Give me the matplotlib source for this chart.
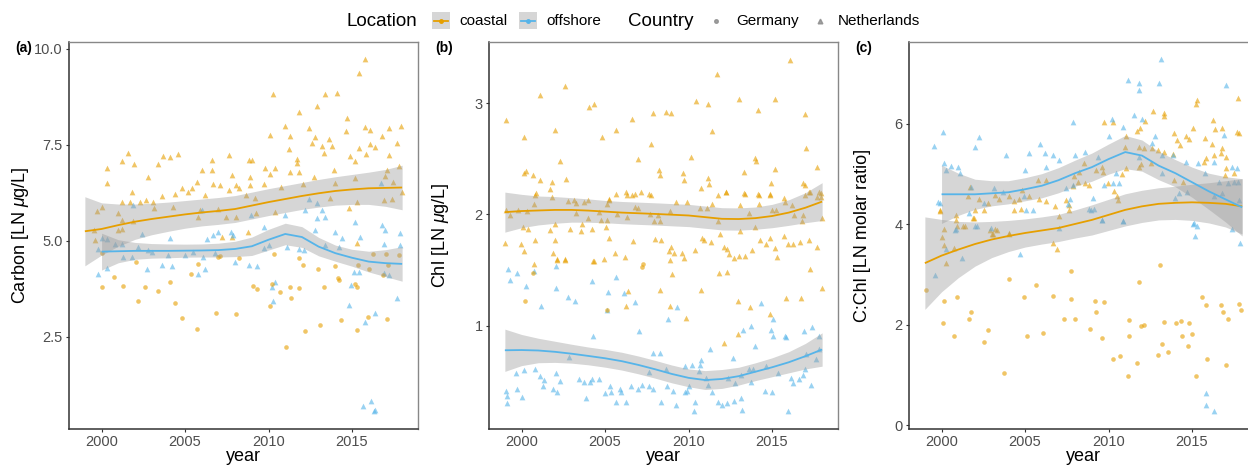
import matplotlib
matplotlib.use('Agg')
import matplotlib.pyplot as plt
import numpy as np
from matplotlib.patches import Rectangle
from matplotlib.lines import Line2D

plt.rcParams['font.family'] = ['Liberation Sans', 'DejaVu Sans']
plt.rcParams['mathtext.fontset'] = 'custom'
plt.rcParams['mathtext.rm'] = 'Liberation Sans'
plt.rcParams['mathtext.it'] = 'Liberation Sans:italic'

COAST = '#E69F00'
OFF = '#56B4E9'

# ---------------- data: panel (a) Carbon ----------------
a_coastal_nl = [
    (2015.75, 9.74), (2015.4, 9.38), (2010.25, 8.83), (2013.4, 8.82), (2014.1, 8.85), (2012.9, 8.52),
    (2011.85, 8.36), (2014.7, 8.2), (2011.0, 8.0), (2012.4, 7.95), (2015.8, 7.96), (2017.2, 7.94),
    (2017.95, 7.98), (2014.65, 7.87), (2016.1, 7.89), (2010.06, 7.76), (2011.26, 7.72), (2012.8, 7.71),
    (2013.65, 7.65), (2016.8, 7.72), (2011.2, 7.4), (2012.6, 7.54), (2013.2, 7.48), (2013.8, 7.46),
    (2015.4, 7.43), (2016.1, 7.52), (2016.35, 7.44), (2017.7, 7.54), (2013.35, 7.28), (2015.85, 7.27),
    (2017.2, 7.24), (2014.85, 7.22), (2015.2, 7.08), (2001.6, 7.28), (2004.6, 7.27), (2003.65, 7.22),
    (2004.07, 7.18), (2007.66, 7.23), (2001.2, 7.07), (2001.93, 7.0), (2003.37, 7.0), (2000.34, 6.89),
    (2000.34, 6.5), (2002.8, 6.67), (2006.0, 6.84), (2006.6, 6.84), (2006.6, 7.11), (2008.8, 7.11),
    (2009.0, 7.11), (2009.8, 6.89), (2010.36, 6.89), (2010.06, 6.74), (2011.3, 6.79), (2011.85, 6.8),
    (2011.7, 7.13), (2011.7, 7.02), (2013.9, 6.85), (2015.15, 6.63), (2017.1, 6.85), (2017.8, 6.96),
    (2012.75, 6.67), (2017.0, 6.69), (2007.8, 6.72), (2008.9, 6.67), (2005.7, 6.54), (2006.67, 6.48),
    (2008.07, 6.46), (2008.9, 6.46), (2009.7, 6.48), (2004.8, 6.37), (2005.4, 6.37), (2007.07, 6.46),
    (2010.76, 6.4), (2012.05, 6.49), (2014.0, 6.52), (2017.45, 6.54), (2018.0, 6.28), (2001.8, 6.28),
    (2004.37, 6.22), (2005.17, 6.28), (2007.66, 6.33), (2008.26, 6.37), (2008.66, 6.2), (2006.2, 6.2),
    (2003.6, 6.17), (2002.67, 6.07), (2001.2, 6.0), (2001.7, 6.02), (2002.3, 6.0), (2003.07, 6.0),
    (2000.04, 5.89), (1999.74, 5.79), (2000.98, 5.72), (2003.13, 5.85), (2004.27, 5.89), (2005.87, 5.81),
    (2006.97, 5.83), (2009.16, 6.11), (2009.26, 5.72), (2010.36, 5.74), (2013.7, 6.11), (2014.8, 5.85),
    (2015.3, 6.0), (2016.9, 6.07), (2017.4, 6.09), (2005.77, 5.63), (2008.07, 5.63), (2007.47, 5.63),
    (2001.88, 5.53), (2001.2, 5.55), (2001.2, 5.3), (2008.76, 5.24), (1999.54, 5.29), (1999.6, 5.03),
    (2007.2, 5.11), (2007.8, 5.11), (2000.98, 5.29), (2015.3, 4.94),
]
a_coastal_de = [
    (2000.04, 3.81), (2000.74, 4.05), (2001.3, 3.83), (2002.17, 3.44), (2002.07, 4.46), (2002.6, 3.79),
    (2003.37, 3.7), (2004.1, 3.94), (2004.37, 3.39), (2004.83, 3.0), (2005.37, 4.14), (2005.73, 2.7),
    (2005.77, 4.39), (2006.83, 3.12), (2006.97, 4.59), (2008.07, 3.1), (2008.22, 4.55), (2009.06, 3.83),
    (2009.3, 3.74), (2010.1, 3.31), (2010.22, 3.87), (2010.3, 4.65), (2010.66, 3.68), (2011.06, 2.23),
    (2011.26, 3.79), (2011.36, 3.51), (2011.8, 3.77), (2011.8, 4.55), (2012.05, 4.38), (2012.2, 2.66),
    (2012.95, 4.27), (2013.1, 2.81), (2013.35, 3.81), (2013.95, 4.35), (2014.15, 4.03), (2014.2, 3.97),
    (2014.35, 2.94), (2015.15, 3.87), (2015.3, 3.79), (2015.3, 2.68), (2015.35, 4.36), (2015.95, 3.03),
    (2016.0, 4.27), (2016.25, 4.66), (2016.85, 4.11), (2017.05, 4.65), (2017.1, 2.96), (2017.15, 4.38),
    (2017.8, 4.64), (2000.04, 4.68), (2007.1, 4.61),
]
a_offshore_nl = [
    (2001.9, 5.94), (2006.0, 5.81), (2012.4, 6.09), (2012.9, 5.98), (2012.2, 5.81), (2013.2, 5.81),
    (2008.96, 5.68), (2011.0, 5.68), (2012.9, 5.59), (2013.4, 5.63), (2016.75, 6.5), (2015.2, 5.5),
    (2009.7, 5.37), (2012.8, 5.29), (2014.0, 5.24), (2016.8, 5.42), (2017.0, 5.29), (2017.85, 5.2),
    (2014.4, 5.07), (2015.5, 5.1), (2016.9, 4.91), (2017.9, 4.9), (2002.4, 5.17), (2000.3, 5.04),
    (2000.8, 4.92), (2001.2, 4.91), (1999.8, 4.78), (2000.0, 5.07), (2002.2, 4.85), (2002.8, 4.77),
    (2004.1, 5.07), (2006.3, 5.04), (2006.65, 5.16), (2007.0, 5.24), (2007.76, 5.24), (2007.9, 5.16),
    (2005.0, 4.64), (2004.0, 4.64), (2001.8, 4.59), (2001.3, 4.58), (2006.1, 4.59), (2009.7, 4.81),
    (2010.0, 4.9), (2011.1, 4.85), (2011.8, 4.78), (2012.1, 4.75), (2013.4, 4.9), (2014.2, 4.85),
    (2006.8, 4.68), (2008.0, 4.46), (2008.8, 4.38), (2009.3, 4.35), (2002.7, 4.27), (2003.6, 4.38),
    (2004.2, 4.35), (2005.8, 4.14), (2006.2, 4.27), (2000.3, 4.29), (1999.8, 4.14), (2010.4, 3.92),
    (2010.2, 3.81), (2015.1, 4.2), (2015.4, 4.2), (2014.95, 3.86), (2016.9, 4.16), (2014.8, 3.33),
    (2017.7, 3.5), (2016.35, 3.12), (2015.75, 2.9), (2017.2, 4.11), (2015.65, 0.69), (2016.15, 0.83),
    (2016.3, 0.57), (2016.35, 0.6), (2010.26, 3.44), (2003.0, 4.72), (2005.5, 4.70),
]

# ---------------- data: panel (b) Chl ----------------
b_coastal_nl = [
    (1999.04, 2.85), (2000.14, 2.70), (2001.08, 3.07), (2001.98, 2.76), (2002.63, 3.15), (2004.03, 2.97),
    (2004.31, 2.99), (2004.83, 2.70), (2005.67, 2.76), (2006.6, 2.86), (2007.86, 2.91), (2008.66, 2.92),
    (2008.96, 2.91), (2010.42, 3.02), (2011.16, 2.99), (2011.42, 2.75), (2011.72, 3.26), (2013.05, 3.04),
    (2014.15, 2.94), (2015.2, 3.04), (2016.1, 3.39), (2016.95, 2.90), (2017.05, 2.60), (2017.7, 2.43),
    (2000.14, 2.37), (2000.24, 2.39), (2000.68, 2.35), (2001.12, 2.31), (2002.28, 2.48), (2001.84, 2.29),
    (2001.68, 2.23), (2000.84, 2.19), (2002.67, 2.32), (2006.97, 2.50), (2007.77, 2.63), (2008.26, 2.40),
    (2008.32, 2.35), (2010.12, 2.52), (2009.66, 2.37), (2009.72, 2.31), (2011.16, 2.33), (2011.22, 2.27),
    (2010.76, 2.24), (2012.22, 2.20), (2013.3, 2.38), (2014.0, 2.51), (2014.05, 2.48), (2015.2, 2.41),
    (2014.95, 2.28), (2016.85, 2.28), (2016.95, 2.26), (2017.2, 2.20), (2017.84, 2.20), (2017.94, 2.16),
    (2015.7, 2.15), (2013.35, 2.19), (2014.15, 2.18), (2014.85, 2.18), (2005.67, 2.18), (2006.27, 2.20),
    (2007.17, 2.20), (2007.66, 2.18), (2006.63, 2.17), (2005.23, 2.14),
    (1999.06, 2.04), (1999.32, 1.99), (1999.78, 2.04), (2000.32, 2.03), (2000.82, 2.17), (2000.76, 2.09),
    (2001.82, 2.16), (2002.78, 2.12), (2003.17, 2.13), (2003.25, 2.10), (2003.71, 2.11), (2004.0, 2.13),
    (2003.25, 2.01), (2003.97, 1.97), (2004.61, 2.02), (2004.77, 1.95), (2005.1, 1.95), (2005.25, 2.13),
    (2005.1, 2.09), (2005.7, 2.0), (2006.3, 2.17), (2006.77, 2.18), (2006.77, 2.07), (2007.0, 2.06),
    (2006.3, 1.98), (2007.7, 2.0), (2007.77, 2.17), (2008.2, 1.99), (2008.3, 1.94), (2007.96, 1.94),
    (2008.9, 2.03), (2009.24, 2.11), (2009.9, 2.11), (2010.7, 2.06), (2011.1, 2.06), (2011.4, 2.09),
    (2011.76, 2.17), (2011.76, 1.94), (2012.24, 2.20), (2013.1, 2.08), (2013.4, 2.18), (2013.6, 2.01),
    (2014.2, 2.09), (2014.23, 2.17), (2014.9, 2.17), (2014.99, 2.04), (2015.23, 2.04), (2015.75, 2.11),
    (2016.2, 2.08), (2016.3, 1.99), (2016.99, 2.17), (2017.3, 2.20), (2017.7, 2.16), (2017.95, 2.19),
    (2017.98, 1.97), (2016.8, 1.94), (2016.85, 1.99),
    (1999.02, 1.74), (2000.08, 1.89), (2000.38, 1.87), (1999.98, 1.73), (2000.16, 1.67), (2000.78, 1.77),
    (2000.72, 1.55), (2001.68, 1.86), (2001.98, 1.77), (2002.02, 1.91), (2001.86, 1.65), (2002.12, 1.60),
    (2002.62, 1.60), (2002.92, 1.87), (2003.6, 1.91), (2003.57, 1.85), (2004.2, 1.87), (2004.31, 1.58),
    (2004.91, 1.60), (2005.05, 1.89), (2005.25, 1.79), (2005.61, 1.65), (2006.2, 1.62), (2006.67, 1.76),
    (2008.0, 1.78), (2008.37, 1.77), (2008.96, 1.71), (2008.8, 1.67), (2009.1, 1.65), (2008.9, 1.59),
    (2009.7, 1.61), (2009.6, 1.65), (2010.4, 1.68), (2010.8, 1.79), (2010.9, 1.77), (2011.36, 1.75),
    (2011.9, 1.82), (2012.1, 1.71), (2012.3, 1.69), (2012.4, 1.64), (2012.7, 1.61), (2013.0, 1.63),
    (2013.4, 1.63), (2013.1, 1.85), (2013.8, 1.68), (2014.0, 1.89), (2014.3, 1.77), (2014.65, 1.73),
    (2014.9, 1.79), (2015.15, 1.70), (2015.3, 1.62), (2015.7, 1.81), (2015.93, 1.73), (2016.23, 1.73),
    (2016.7, 1.75), (2017.2, 1.77), (2017.7, 1.71), (2017.3, 1.51), (2017.98, 1.34),
    (2002.12, 1.59), (2002.63, 1.59), (2004.27, 1.58), (2006.37, 1.31), (2006.23, 1.18), (2008.3, 1.32),
    (2008.9, 1.18), (2009.0, 1.46), (2009.82, 1.07), (2010.72, 1.32), (2011.82, 1.47), (2012.3, 1.48),
    (2012.1, 0.84), (2012.95, 1.22), (2012.95, 0.92), (2013.7, 1.17), (2014.85, 1.10), (2015.85, 1.25),
    (2016.75, 1.25),
]
b_coastal_de = [
    (2007.2, 1.53), (2007.27, 1.55), (2000.18, 1.22), (2000.68, 1.47), (2005.13, 1.14),
]
b_offshore_nl = [
    (1999.18, 1.51), (1999.32, 1.41), (1999.72, 1.47), (2000.28, 1.36), (2000.74, 1.49), (2002.04, 1.54),
    (2002.08, 1.34), (2001.18, 1.18), (2002.78, 1.26), (2003.2, 1.22), (2004.23, 1.40), (2004.27, 0.91),
    (2005.17, 1.30), (2005.1, 1.14), (2005.63, 1.44), (2006.11, 1.29), (2006.77, 1.21), (2007.03, 0.95),
    (2008.77, 1.06), (2009.3, 1.17), (2014.35, 1.20), (2015.05, 1.06), (2014.95, 0.96), (2015.05, 0.91),
    (2013.25, 0.96), (2013.75, 1.0), (2013.95, 0.82), (2015.8, 0.91), (2015.85, 0.90), (2016.9, 0.95),
    (2017.4, 0.99), (2017.8, 0.91), (2017.8, 0.79), (2017.65, 0.70), (2011.26, 0.79), (2012.66, 0.71),
    (2010.76, 0.69), (2010.7, 0.65), (2010.22, 0.65), (2009.76, 0.64), (2007.86, 0.75), (2008.3, 0.75),
    (2008.62, 0.61), (2007.66, 0.58), (2010.6, 0.59), (2011.06, 0.53), (2002.83, 0.72), (2003.43, 0.52),
    (2003.71, 0.49), (2004.07, 0.49), (2004.23, 0.52), (2004.63, 0.52), (1999.68, 0.57), (2000.14, 0.60),
    (2000.78, 0.61), (2001.08, 0.55), (2001.32, 0.51), (2002.04, 0.57), (2002.32, 0.50), (2001.88, 0.43),
    (2002.12, 0.40), (1999.04, 0.41), (1999.12, 0.37), (1999.12, 0.30), (1999.72, 0.43), (2000.04, 0.36),
    (2001.28, 0.46), (2003.83, 0.35), (2004.97, 0.39), (2005.27, 0.46), (2005.37, 0.40), (2005.87, 0.43),
    (2005.97, 0.40), (2005.67, 0.31), (2006.23, 0.31), (2006.57, 0.46), (2006.97, 0.43), (2007.23, 0.47),
    (2007.66, 0.46), (2007.86, 0.43), (2008.37, 0.31), (2008.7, 0.46), (2009.06, 0.41), (2009.22, 0.29),
    (2009.76, 0.40), (2009.9, 0.41), (2010.02, 0.46), (2010.3, 0.23), (2010.36, 0.31), (2011.16, 0.47),
    (2011.42, 0.40), (2011.76, 0.31), (2012.02, 0.29), (2012.3, 0.30), (2012.7, 0.32), (2012.76, 0.48),
    (2013.16, 0.35), (2013.22, 0.24), (2013.75, 0.49), (2013.85, 0.61), (2013.16, 0.56), (2012.36, 0.53),
    (2013.65, 0.61), (2014.6, 0.41), (2015.0, 0.40), (2014.65, 0.64), (2015.35, 0.57), (2015.95, 0.23),
    (2016.15, 0.53), (2016.25, 0.48), (2016.6, 0.52), (2016.85, 0.56), (2016.95, 0.61), (2017.35, 0.47),
    (2017.05, 0.74),
]

# ---------------- data: panel (c) C:Chl ----------------
c_coastal_nl = [
    (2015.32, 6.48), (2015.22, 6.39), (2017.75, 6.52), (2012.69, 6.26), (2013.33, 6.21), (2013.33, 6.15),
    (2016.24, 6.07), (2016.78, 5.91), (2016.38, 5.89), (2017.81, 5.81), (2017.67, 5.83), (2012.2, 6.05),
    (2011.9, 5.91), (2009.7, 6.03), (2010.24, 6.03), (2015.08, 5.91), (2014.63, 5.76), (2013.93, 5.81),
    (2014.09, 5.68), (2014.29, 5.58), (2014.82, 5.70), (2015.78, 5.72), (2016.22, 5.60), (2011.04, 5.76),
    (2011.0, 5.55), (2011.7, 5.85), (2011.8, 5.55), (2012.13, 5.52), (2012.59, 5.52), (2012.99, 5.48),
    (2013.33, 5.45), (2013.83, 5.40), (2015.72, 5.25), (2015.82, 5.32), (2016.32, 5.38), (2016.72, 5.42),
    (2017.02, 5.35), (2016.82, 5.52), (2017.02, 5.12), (2016.98, 4.99), (2017.51, 5.03), (2013.93, 4.89),
    (2014.43, 4.85), (2011.84, 5.15), (2011.94, 5.21), (2012.54, 5.23), (2011.04, 5.12), (2010.8, 5.01),
    (2009.6, 5.15), (2009.25, 5.09), (2009.64, 5.05), (2008.55, 5.22), (2008.25, 5.05), (2009.95, 4.83),
    (2010.34, 4.66), (2010.48, 4.56), (2010.54, 4.49), (2008.2, 4.85), (2008.6, 4.83), (2008.85, 4.79),
    (2007.95, 4.97), (2007.85, 4.76), (2006.26, 4.89), (2005.76, 4.89), (2007.45, 4.49), (2007.65, 4.39),
    (2007.65, 4.29), (2006.81, 4.36), (2007.05, 4.17), (2006.26, 4.46), (2005.86, 4.51), (2005.26, 4.57),
    (2004.82, 4.68), (2004.66, 4.51), (2004.36, 4.46), (2004.03, 4.56), (2003.43, 4.51), (2003.23, 4.59),
    (2004.36, 4.29), (2004.76, 4.31), (2002.24, 4.51), (2002.78, 4.42), (2002.54, 4.29), (2002.03, 4.29),
    (2001.73, 4.74), (2001.57, 4.56), (2000.88, 4.19), (1999.88, 4.29), (2000.88, 4.09), (2001.38, 3.96),
    (2001.87, 4.13), (2002.91, 3.89), (2003.23, 3.91), (2004.03, 3.83), (2000.04, 3.76), (2000.14, 3.60),
    (2000.74, 3.53), (2000.28, 3.23), (2003.07, 3.80), (2006.65, 3.63), (2006.89, 3.51), (2004.06, 3.80),
    (1999.92, 4.26), (2000.12, 3.91), (2000.92, 3.97), (2001.3, 3.96), (2001.97, 4.13), (2003.31, 3.89),
    (2003.01, 3.80),
]
c_coastal_de = [
    (1999.04, 2.70), (2000.12, 2.47), (2000.08, 2.04), (2000.74, 1.79), (2000.94, 2.55), (2001.67, 2.12),
    (2001.78, 2.26), (2002.54, 1.66), (2002.78, 1.89), (2003.73, 1.05), (2004.03, 2.92), (2004.92, 2.55),
    (2005.1, 1.78), (2005.66, 2.80), (2006.1, 1.84), (2006.65, 2.58), (2007.35, 2.11), (2007.75, 3.07),
    (2007.75, 2.52), (2007.99, 2.12), (2008.89, 1.92), (2009.2, 2.48), (2009.25, 2.25), (2009.58, 1.74),
    (2009.74, 2.45), (2010.24, 1.33), (2010.7, 1.38), (2011.18, 0.99), (2011.2, 1.79), (2011.24, 2.09),
    (2011.7, 1.25), (2011.84, 2.86), (2011.94, 1.97), (2012.13, 2.0), (2012.97, 1.41), (2013.09, 3.20),
    (2013.23, 1.62), (2013.33, 2.05), (2013.59, 1.47), (2014.03, 2.04), (2014.33, 2.07), (2014.39, 1.79),
    (2014.82, 2.04), (2014.78, 1.58), (2015.02, 1.83), (2015.26, 0.99), (2015.58, 2.55), (2015.82, 2.39),
    (2015.88, 1.33), (2016.72, 2.39), (2016.88, 2.26), (2017.02, 1.20), (2017.16, 2.12), (2017.81, 2.42),
    (2017.91, 2.29),
]
c_offshore_nl = [
    (2013.13, 7.29), (2011.18, 6.87), (2011.8, 6.82), (2011.8, 6.68), (2013.0, 6.82), (2017.06, 6.77),
    (2011.54, 6.18), (2012.03, 6.09), (2010.2, 6.09), (2010.84, 5.93), (2012.79, 5.76), (2016.92, 5.78),
    (2007.85, 6.03), (2010.0, 5.75), (2000.08, 5.83), (1999.54, 5.56), (2002.03, 5.55), (2002.27, 5.74),
    (2005.92, 5.60), (2006.22, 5.43), (2005.22, 5.42), (2003.83, 5.38), (2006.65, 5.38), (2007.05, 5.28),
    (2008.0, 5.38), (2008.6, 5.45), (2009.34, 5.35), (2000.14, 5.22), (2000.58, 5.17), (2000.98, 5.15),
    (2000.28, 5.09), (2001.08, 5.03), (2006.26, 5.15), (2005.02, 5.09), (2010.44, 5.02), (2011.84, 5.35),
    (2012.63, 5.62), (2013.23, 5.38), (2013.83, 5.38), (2014.63, 5.25), (2015.38, 5.23), (2016.32, 5.25),
    (2017.38, 5.14), (2017.72, 5.12), (2016.62, 4.85), (2017.18, 4.83), (2017.5, 4.85), (2017.77, 4.85),
    (2015.78, 5.02), (2001.78, 4.75), (2003.17, 4.72), (2003.66, 4.64), (2004.96, 4.57), (2007.45, 4.72),
    (2007.85, 4.79), (2009.74, 4.79), (2010.24, 4.82), (2010.6, 4.83), (2013.23, 5.02), (2014.22, 4.62),
    (2014.72, 4.64), (2013.99, 4.52), (2016.32, 4.56), (2016.78, 4.62), (2002.57, 4.42), (2001.63, 4.23),
    (1999.88, 4.42), (2005.06, 4.28), (2005.5, 4.28), (2007.6, 4.41), (2007.7, 4.50), (2008.85, 4.31),
    (2009.15, 4.31), (2009.6, 4.09), (2010.84, 4.06), (2007.05, 3.93), (2002.03, 3.96), (2000.84, 3.91),
    (2015.12, 4.03), (2015.32, 3.96), (2017.38, 3.91), (2017.81, 4.49), (2015.06, 4.01), (2015.16, 3.78),
    (2017.85, 3.63), (2001.22, 3.33), (1999.62, 3.0), (2004.7, 3.42), (2000.26, 3.51), (1999.78, 4.44),
    (2000.82, 3.89), (2002.1, 3.96), (2002.97, 3.93), (2010.88, 4.06), (2008.95, 4.29), (2009.58, 4.08),
    (2009.08, 4.52), (2015.82, 0.65), (2015.82, 0.41), (2016.32, 0.29),
]

# ---------------- smooth fits ----------------
fit_years = list(range(1999, 2019))
fit_years_off = list(range(2000, 2019))

a_coastal_fit = [5.25, 5.31, 5.41, 5.50, 5.57, 5.63, 5.69, 5.74, 5.78, 5.83, 5.92, 6.01, 6.09, 6.17, 6.24, 6.30, 6.34, 6.37, 6.38, 6.39]
a_coastal_se = [0.90, 0.68, 0.55, 0.46, 0.41, 0.38, 0.36, 0.35, 0.35, 0.35, 0.35, 0.35, 0.35, 0.35, 0.36, 0.37, 0.39, 0.42, 0.48, 0.58]
a_offshore_fit = [4.72, 4.73, 4.74, 4.74, 4.74, 4.745, 4.75, 4.76, 4.79, 4.86, 5.03, 5.18, 5.10, 4.85, 4.68, 4.56, 4.46, 4.42, 4.40]
a_offshore_se = [0.48, 0.30, 0.22, 0.19, 0.18, 0.17, 0.17, 0.18, 0.20, 0.24, 0.27, 0.28, 0.27, 0.24, 0.21, 0.22, 0.27, 0.35, 0.45]

b_coastal_fit = [2.02, 2.03, 2.035, 2.04, 2.04, 2.034, 2.025, 2.016, 2.01, 2.004, 1.997, 1.99, 1.975, 1.96, 1.958, 1.966, 1.985, 2.016, 2.06, 2.115]
b_coastal_se = [0.18, 0.15, 0.13, 0.12, 0.11, 0.105, 0.10, 0.10, 0.10, 0.10, 0.10, 0.10, 0.10, 0.10, 0.10, 0.10, 0.105, 0.115, 0.135, 0.17]
b_offshore_fit = [0.778, 0.78, 0.776, 0.764, 0.747, 0.727, 0.706, 0.68, 0.646, 0.607, 0.565, 0.53, 0.51, 0.52, 0.545, 0.585, 0.625, 0.67, 0.725, 0.785]
b_offshore_se = [0.19, 0.14, 0.11, 0.095, 0.085, 0.08, 0.08, 0.08, 0.08, 0.08, 0.08, 0.08, 0.085, 0.085, 0.08, 0.08, 0.085, 0.095, 0.115, 0.15]

c_coastal_fit = [3.23, 3.38, 3.50, 3.61, 3.70, 3.77, 3.83, 3.88, 3.93, 4.01, 4.09, 4.19, 4.29, 4.36, 4.41, 4.43, 4.44, 4.43, 4.41, 4.36]
c_coastal_se = [0.92, 0.72, 0.56, 0.44, 0.36, 0.31, 0.28, 0.27, 0.27, 0.28, 0.30, 0.31, 0.32, 0.32, 0.32, 0.33, 0.36, 0.40, 0.46, 0.55]
c_offshore_fit = [4.60, 4.60, 4.60, 4.62, 4.64, 4.70, 4.77, 4.88, 5.02, 5.14, 5.30, 5.44, 5.37, 5.17, 5.02, 4.84, 4.66, 4.50, 4.34]
c_offshore_se = [0.58, 0.42, 0.30, 0.25, 0.23, 0.23, 0.24, 0.25, 0.26, 0.28, 0.30, 0.33, 0.31, 0.28, 0.27, 0.30, 0.36, 0.45, 0.57]

x_ticks = [2000, 2005, 2010, 2015]
panels = [
    dict(tag='(a)', ylabel=r'Carbon [LN $\mu$g/L]', ylim=(0.10, 10.18),
         yticks=[2.5, 5.0, 7.5, 10.0], yticklabels=['2.5', '5.0', '7.5', '10.0'],
         cnl=a_coastal_nl, cde=a_coastal_de, onl=a_offshore_nl,
         cfit=(fit_years, a_coastal_fit, a_coastal_se), ofit=(fit_years_off, a_offshore_fit, a_offshore_se)),
    dict(tag='(b)', ylabel=r'Chl [LN $\mu$g/L]', ylim=(0.07, 3.55),
         yticks=[1, 2, 3], yticklabels=['1', '2', '3'],
         cnl=b_coastal_nl, cde=b_coastal_de, onl=b_offshore_nl,
         cfit=(fit_years, b_coastal_fit, b_coastal_se), ofit=(fit_years, b_offshore_fit, b_offshore_se)),
    dict(tag='(c)', ylabel='C:Chl [LN molar ratio]', ylim=(-0.07, 7.63),
         yticks=[0, 2, 4, 6], yticklabels=['0', '2', '4', '6'],
         cnl=c_coastal_nl, cde=c_coastal_de, onl=c_offshore_nl,
         cfit=(fit_years, c_coastal_fit, c_coastal_se), ofit=(fit_years_off, c_offshore_fit, c_offshore_se)),
]

W, H = 1248, 468
fig = plt.figure(figsize=(W / 100, H / 100), dpi=100)
lefts = [69, 489, 909]
ax_w, ax_top, ax_bot = 349, 42, 429

for p, lp in zip(panels, lefts):
    ax = fig.add_axes([lp / W, (H - ax_bot) / H, ax_w / W, (ax_bot - ax_top) / H])
    for pts, col, mk, s in [(p['cnl'], COAST, '^', 17), (p['onl'], OFF, '^', 17), (p['cde'], COAST, 'o', 11)]:
        arr = np.array(pts)
        ax.scatter(arr[:, 0], arr[:, 1], s=s, marker=mk, color=col, alpha=0.6, linewidths=0, zorder=2)
    for (yr, fit, se), col in [(p['cfit'], COAST), (p['ofit'], OFF)]:
        yr = np.array(yr, float); fit = np.array(fit); se = np.array(se)
        ax.fill_between(yr, fit - se, fit + se, color='#999999', alpha=0.4, linewidth=0, zorder=3)
        ax.plot(yr, fit, color=col, lw=1.3, zorder=4, solid_capstyle='butt')
    ax.set_xlim(1998.05, 2018.95)
    ax.set_ylim(*p['ylim'])
    ax.set_xticks(x_ticks)
    ax.set_yticks(p['yticks'])
    ax.set_yticklabels(p['yticklabels'])
    ax.tick_params(axis='both', length=2.5, width=0.8, color='#333333', pad=2,
                   labelsize=10.5, labelcolor='#4D4D4D')
    for side in ['left', 'bottom']:
        ax.spines[side].set_color('#333333'); ax.spines[side].set_linewidth(1.1)
    for side in ['top', 'right']:
        ax.spines[side].set_color('#888888'); ax.spines[side].set_linewidth(1.0)
    ax.set_ylabel(p['ylabel'], fontsize=13)
    ax.yaxis.set_label_coords(-0.108, 0.5)
    ax.set_xlabel('year', fontsize=13)
    ax.xaxis.set_label_coords(0.5, -0.05)
    fig.text((lp - 54) / W, 1 - 48 / H, p['tag'], fontsize=10, fontweight='bold', ha='left', va='center')

# ---------------- legend ----------------
ly = 1 - 21 / H
fig.text(347 / W, ly, 'Location', fontsize=13.5, ha='left', va='center')
for x0, col, lab in [(432, COAST, 'coastal'), (519, OFF, 'offshore')]:
    fig.add_artist(Rectangle((x0 / W, 1 - 29 / H), 18 / W, 17 / H, transform=fig.transFigure,
                             facecolor='#D6D6D6', edgecolor='none'))
    fig.add_artist(Line2D([(x0 + 2) / W, (x0 + 16) / W], [ly, ly], transform=fig.transFigure,
                          color=col, lw=1.3))
    fig.add_artist(Line2D([(x0 + 9) / W], [ly], transform=fig.transFigure, marker='o',
                          markersize=2.5, color=col, lw=0))
    fig.text((x0 + 27) / W, ly, lab, fontsize=11, ha='left', va='center')
fig.text(628 / W, ly, 'Country', fontsize=13.5, ha='left', va='center')
fig.add_artist(Line2D([716 / W], [ly], transform=fig.transFigure, marker='o', markersize=2.6,
                      color='#8A8A8A', alpha=0.8, lw=0))
fig.text(736 / W, ly, 'Germany', fontsize=11, ha='left', va='center')
fig.add_artist(Line2D([820 / W], [ly], transform=fig.transFigure, marker='^', markersize=3.4,
                      color='#8A8A8A', alpha=0.8, lw=0))
fig.text(838 / W, ly, 'Netherlands', fontsize=11, ha='left', va='center')

fig.savefig('out.png', dpi=100, facecolor='white')
